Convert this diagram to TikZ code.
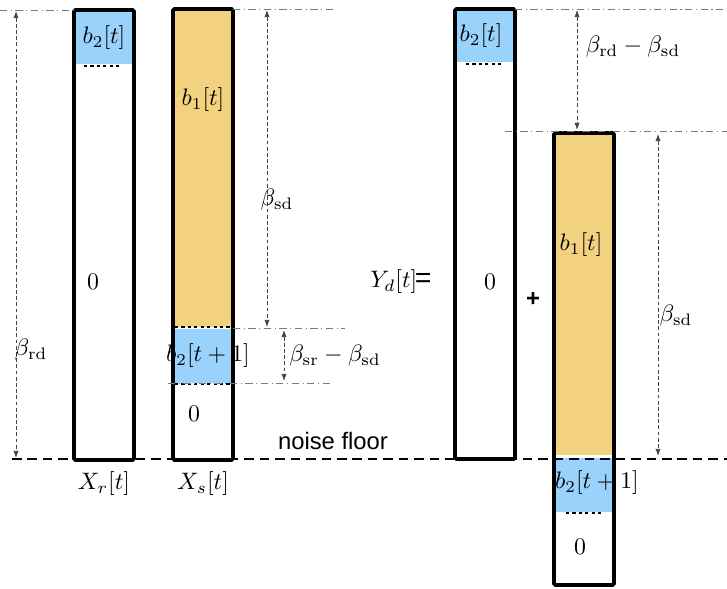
\documentclass[tikz,border=0pt]{standalone}
\usepackage{fontspec}
\setsansfont{Liberation Sans}
\usetikzlibrary{arrows.meta}
\definecolor{segBlue}{HTML}{99D3FC}
\definecolor{segGold}{HTML}{F2D27E}
\definecolor{guideGray}{HTML}{7A7A7A}
\definecolor{dimGray}{HTML}{444444}

\begin{document}
\begin{tikzpicture}[
  x=0.42pt, y=-0.42pt,
  font=\normalsize,
  colbox/.style={draw=black, line width=1.5pt, rounded corners=0.6pt},
  seglbl/.style={inner sep=0pt},
  dotrule/.style={draw=black, line width=0.9pt, dash pattern=on 1.3pt off 1.4pt},
  guide/.style={draw=guideGray, line width=0.35pt, dash pattern=on 3pt off 1.5pt on 0.5pt off 1.5pt},
  dimarr/.style={{Latex[length=3pt,width=2.2pt]}-{Latex[length=3pt,width=2.2pt]},
                 draw=dimGray, line width=0.35pt, dash pattern=on 1.6pt off 1pt},
  floor/.style={draw=black, line width=0.7pt, dash pattern=on 4pt off 2.5pt},
]
\useasboundingbox (0,0) rectangle (727,589);

% ---- Column X_r[t] ----
\fill[segBlue] (74,10) rectangle (134,64);
\draw[dotrule] (84,66) -- (122,66);
\draw[colbox] (74,10) rectangle (134,460);
\node[seglbl] (xr-b2)  at (104,38)  {$b_2[t]$};
\node[seglbl] (xr-0)   at (93,282)  {$0$};
\node[seglbl] (xr-lbl) at (104,484) {$X_r[t]$};

% ---- Column X_s[t] ----
\fill[segGold] (173,9) rectangle (233,327);
\fill[segBlue] (173,329) rectangle (233,383);
\draw[dotrule] (175,327) -- (230,327);
\draw[dotrule] (175,384) -- (230,384);
\draw[colbox] (173,9) rectangle (233,460);
\node[seglbl] (xs-b1)  at (203,100) {$b_1[t]$};
\node[seglbl] (xs-b2)  at (208,356) {$b_2[t+1]$};
\node[seglbl] (xs-0)   at (194,414) {$0$};
\node[seglbl] (xs-lbl) at (203,484) {$X_s[t]$};

% ---- Column Y_d[t], first term ----
\fill[segBlue] (455,9) rectangle (515,62);
\draw[dotrule] (466,64) -- (502,64);
\draw[colbox] (455,9) rectangle (515,459);
\node[seglbl] (yd-b2) at (481,36)  {$b_2[t]$};
\node[seglbl] (yd-0)  at (490,282) {$0$};
\node[seglbl] (yd-lbl) at (401,282) {$Y_d[t]$\kern-1pt\textsf{\large =}};
\node[seglbl, font=\sffamily\bfseries] (plus) at (533,300) {+};

% ---- Column Y_d[t], second term ----
\fill[segGold] (554,133) rectangle (614,455);
\fill[segBlue] (554,458) rectangle (614,512);
\draw[dotrule] (566,513) -- (604,513);
\draw[colbox] (554,133) rectangle (614,585);
\node[seglbl] (yt-b1) at (581,245) {$b_1[t]$};
\node[seglbl] (yt-b2) at (597,483) {$b_2[t+1]$};
\node[seglbl] (yt-0)  at (580,547) {$0$};

% ---- Guide lines ----
\draw[guide] (0,10)    -- (74,10);
\draw[guide] (233,9)   -- (335,9);
\draw[guide] (233,328) -- (345,328);
\draw[guide] (168,383) -- (333,383);
\draw[guide] (515,9)   -- (727,9);
\draw[guide] (505,131) -- (727,131);

% ---- Noise floor ----
\coordinate (nf-l) at (12,459);
\coordinate (nf-r) at (727,459);
\draw[floor] (nf-l) -- (nf-r);
\node[font=\sffamily] (nf-lbl) at (333,441) {noise floor};

% ---- Dimension arrows ----
\coordinate (rd-t) at (16,11);   \coordinate (rd-b) at (16,458);
\coordinate (sd-t) at (267,10);  \coordinate (sd-b) at (267,327);
\coordinate (sr-t) at (284,330); \coordinate (sr-b) at (284,381);
\coordinate (dd-t) at (577,10);  \coordinate (dd-b) at (577,130);
\coordinate (sd2-t) at (658,134); \coordinate (sd2-b) at (658,456);
\draw[dimarr] (rd-t) -- (rd-b);
\draw[dimarr] (sd-t) -- (sd-b);
\draw[dimarr] (sr-t) -- (sr-b);
\draw[dimarr] (dd-t) -- (dd-b);
\draw[dimarr] (sd2-t) -- (sd2-b);
\node[seglbl] (rd-lbl)  at (31,350)  {$\beta_{\mathrm{rd}}$};
\node[seglbl] (sd-lbl)  at (277,200) {$\beta_{\mathrm{sd}}$};
\node[seglbl] (sr-lbl)  at (335,356) {$\beta_{\mathrm{sr}}-\beta_{\mathrm{sd}}$};
\node[seglbl] (dd-lbl)  at (633,47)  {$\beta_{\mathrm{rd}}-\beta_{\mathrm{sd}}$};
\node[seglbl] (sd2-lbl) at (676,316) {$\beta_{\mathrm{sd}}$};

\end{tikzpicture}
\end{document}
